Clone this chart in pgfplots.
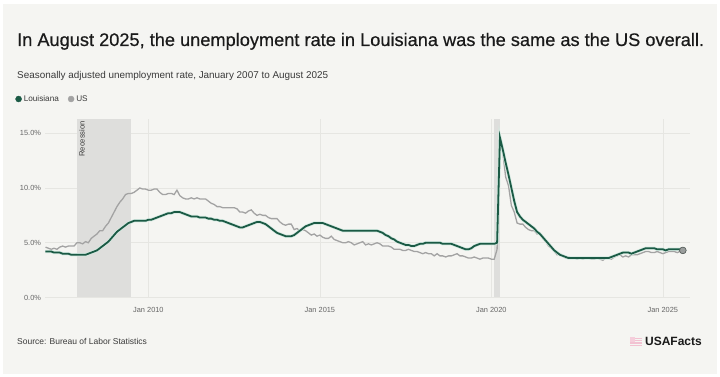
\documentclass[border=0pt]{standalone}
\usepackage{fontspec}
\setmainfont{Liberation Sans}
\newfontfamily\titlefont[FakeBold=0.5]{Liberation Sans}
\usepackage{pgfplots}
\usepackage{pgfplotstable}
\pgfplotsset{compat=1.18}
\definecolor{bgc}{HTML}{F5F5F2}
\definecolor{lacol}{HTML}{1B5A45}
\definecolor{lahalo}{HTML}{D3EAE1}
\definecolor{uscol}{HTML}{A3A3A3}
\definecolor{recc}{HTML}{DEDEDC}
\definecolor{gridc}{HTML}{E6E6E2}
\definecolor{txt}{HTML}{1A1A1A}
\definecolor{subtxt}{HTML}{3A3A3A}
\definecolor{ticktxt}{HTML}{666666}
\definecolor{logopink}{HTML}{F2C2D2}

\pgfplotstableread{
yr m la us
2007 1 4.2 4.6
2007 2 4.2 4.5
2007 3 4.2 4.4
2007 4 4.1 4.5
2007 5 4.1 4.4
2007 6 4.1 4.6
2007 7 4.0 4.7
2007 8 4.0 4.6
2007 9 4.0 4.7
2007 10 3.9 4.7
2007 11 3.9 4.7
2007 12 3.9 5.0
2008 1 3.9 5.0
2008 2 3.9 4.9
2008 3 3.9 5.1
2008 4 4.0 5.0
2008 5 4.1 5.4
2008 6 4.2 5.6
2008 7 4.3 5.8
2008 8 4.5 6.1
2008 9 4.7 6.1
2008 10 4.9 6.5
2008 11 5.1 6.8
2008 12 5.4 7.3
2009 1 5.7 7.8
2009 2 6.0 8.3
2009 3 6.2 8.7
2009 4 6.4 9.0
2009 5 6.6 9.4
2009 6 6.8 9.5
2009 7 6.9 9.5
2009 8 7.0 9.6
2009 9 7.0 9.8
2009 10 7.0 10.0
2009 11 7.0 9.9
2009 12 7.0 9.9
2010 1 7.1 9.8
2010 2 7.1 9.8
2010 3 7.2 9.9
2010 4 7.3 9.9
2010 5 7.4 9.6
2010 6 7.5 9.4
2010 7 7.6 9.4
2010 8 7.7 9.5
2010 9 7.7 9.5
2010 10 7.8 9.4
2010 11 7.8 9.8
2010 12 7.8 9.3
2011 1 7.7 9.1
2011 2 7.6 9.0
2011 3 7.5 9.0
2011 4 7.4 9.1
2011 5 7.4 9.0
2011 6 7.4 9.1
2011 7 7.3 9.0
2011 8 7.3 9.0
2011 9 7.3 9.0
2011 10 7.2 8.8
2011 11 7.2 8.6
2011 12 7.1 8.5
2012 1 7.1 8.3
2012 2 7.0 8.3
2012 3 7.0 8.2
2012 4 6.9 8.2
2012 5 6.8 8.2
2012 6 6.7 8.2
2012 7 6.6 8.2
2012 8 6.5 8.1
2012 9 6.4 7.8
2012 10 6.4 7.8
2012 11 6.5 7.7
2012 12 6.6 7.9
2013 1 6.7 8.0
2013 2 6.8 7.7
2013 3 6.9 7.5
2013 4 6.9 7.6
2013 5 6.8 7.5
2013 6 6.7 7.5
2013 7 6.5 7.3
2013 8 6.3 7.2
2013 9 6.1 7.2
2013 10 5.9 7.2
2013 11 5.8 6.9
2013 12 5.7 6.7
2014 1 5.6 6.6
2014 2 5.6 6.7
2014 3 5.6 6.7
2014 4 5.7 6.2
2014 5 5.9 6.3
2014 6 6.1 6.1
2014 7 6.3 6.2
2014 8 6.5 6.1
2014 9 6.6 5.9
2014 10 6.7 5.7
2014 11 6.8 5.8
2014 12 6.8 5.6
2015 1 6.8 5.7
2015 2 6.8 5.5
2015 3 6.7 5.4
2015 4 6.6 5.4
2015 5 6.5 5.6
2015 6 6.4 5.3
2015 7 6.3 5.2
2015 8 6.2 5.1
2015 9 6.1 5.0
2015 10 6.1 5.0
2015 11 6.1 5.1
2015 12 6.1 5.0
2016 1 6.1 4.8
2016 2 6.1 4.9
2016 3 6.1 5.0
2016 4 6.1 5.1
2016 5 6.1 4.8
2016 6 6.1 4.9
2016 7 6.1 4.8
2016 8 6.1 4.9
2016 9 6.1 5.0
2016 10 6.0 4.9
2016 11 5.9 4.7
2016 12 5.7 4.7
2017 1 5.6 4.7
2017 2 5.4 4.6
2017 3 5.3 4.4
2017 4 5.1 4.4
2017 5 5.0 4.4
2017 6 4.9 4.3
2017 7 4.8 4.3
2017 8 4.8 4.4
2017 9 4.7 4.3
2017 10 4.7 4.2
2017 11 4.8 4.2
2017 12 4.9 4.1
2018 1 4.9 4.0
2018 2 5.0 4.1
2018 3 5.0 4.0
2018 4 5.0 4.0
2018 5 5.0 3.8
2018 6 5.0 4.0
2018 7 5.0 3.8
2018 8 4.9 3.8
2018 9 4.9 3.7
2018 10 4.9 3.8
2018 11 4.9 3.8
2018 12 4.8 3.9
2019 1 4.7 4.0
2019 2 4.6 3.8
2019 3 4.5 3.8
2019 4 4.4 3.7
2019 5 4.4 3.6
2019 6 4.5 3.6
2019 7 4.7 3.7
2019 8 4.8 3.6
2019 9 4.9 3.5
2019 10 4.9 3.6
2019 11 4.9 3.6
2019 12 4.9 3.6
2020 1 4.9 3.5
2020 2 4.9 3.5
2020 3 5.0 4.4
2020 4 14.6 14.8
2020 5 13.5 13.2
2020 6 12.3 11.0
2020 7 11.2 10.2
2020 8 10.0 8.4
2020 9 8.8 7.8
2020 10 7.8 6.8
2020 11 7.4 6.7
2020 12 7.1 6.7
2021 1 6.9 6.4
2021 2 6.7 6.2
2021 3 6.5 6.1
2021 4 6.3 6.1
2021 5 6.0 5.8
2021 6 5.8 5.9
2021 7 5.5 5.4
2021 8 5.2 5.1
2021 9 4.9 4.7
2021 10 4.6 4.5
2021 11 4.3 4.2
2021 12 4.1 3.9
2022 1 3.9 4.0
2022 2 3.8 3.8
2022 3 3.7 3.6
2022 4 3.6 3.7
2022 5 3.6 3.6
2022 6 3.6 3.6
2022 7 3.6 3.5
2022 8 3.6 3.6
2022 9 3.6 3.5
2022 10 3.6 3.6
2022 11 3.6 3.6
2022 12 3.6 3.5
2023 1 3.6 3.5
2023 2 3.6 3.6
2023 3 3.6 3.5
2023 4 3.6 3.4
2023 5 3.6 3.6
2023 6 3.6 3.6
2023 7 3.7 3.5
2023 8 3.8 3.7
2023 9 3.9 3.8
2023 10 4.0 3.9
2023 11 4.1 3.7
2023 12 4.1 3.8
2024 1 4.1 3.7
2024 2 4.0 3.9
2024 3 4.1 3.9
2024 4 4.2 3.9
2024 5 4.3 4.0
2024 6 4.4 4.1
2024 7 4.5 4.2
2024 8 4.5 4.2
2024 9 4.5 4.1
2024 10 4.5 4.1
2024 11 4.4 4.2
2024 12 4.4 4.1
2025 1 4.4 4.0
2025 2 4.3 4.1
2025 3 4.4 4.2
2025 4 4.4 4.2
2025 5 4.4 4.2
2025 6 4.4 4.1
2025 7 4.4 4.2
2025 8 4.3 4.3
}\unemp

\begin{document}
\begin{tikzpicture}[x=1pt,y=1pt]
\fill[white] (0,0) rectangle (720,377);
\fill[bgc] (3,3) rectangle (717,373);
% title
\node[anchor=base west, inner sep=0pt, text=txt, font=\titlefont\fontsize{18.2}{22}\selectfont] at (17,377-46) {In August 2025, the unemployment rate in Louisiana was the same as the US overall.};
\node[anchor=base west, inner sep=0pt, text=subtxt, font=\fontsize{9.9}{12}\selectfont] at (17,377-78.5) {Seasonally adjusted unemployment rate, January 2007 to August 2025};
% source
\node[anchor=base west, inner sep=0pt, text=subtxt, font=\fontsize{8.5}{10}\selectfont] at (17,377-345) {Source: Bureau of Labor Statistics};
% logo
\node[anchor=base east, inner sep=0pt, text=txt, font=\bfseries\fontsize{12}{14}\selectfont] at (702,377-346) {USAFacts};
\foreach \k in {0,1,2,3}{\fill[logopink] (630,377-346+\k*2.3) rectangle (642,377-346+\k*2.3+1.4);}
\fill[logopink!80!white] (630,377-346+4.2) rectangle (635,377-346+8.5);

\begin{axis}[
  at={(45.5pt,79.5pt)}, anchor=south west,
  scale only axis, width=644.8pt, height=178.5pt,
  xmin=2007, xmax=2025.8, ymin=0, ymax=16.3,
  axis line style={draw=none}, tick style={draw=none},
  xtick={2010,2015,2020,2025},
  xticklabels={Jan 2010,Jan 2015,Jan 2020,Jan 2025},
  ytick={0,5,10,15},
  yticklabels={0.0\%,5.0\%,10.0\%,15.0\%},
  xmajorgrids, ymajorgrids,
  major grid style={color=gridc, line width=0.6pt},
  ticklabel style={font=\fontsize{7.4}{8}\selectfont, text=ticktxt},
  xticklabel style={yshift=-6pt},
  yticklabel style={anchor=east, xshift=-1pt},
  clip=false,
  legend columns=2,
  legend style={at={(-0.047,1.112)}, anchor=west, draw=none, fill=none,
    font=\fontsize{8.2}{10}\selectfont, text=subtxt, inner sep=0pt,
    /tikz/every even column/.append style={column sep=7pt}},
]
\addlegendimage{legend image code/.code={\fill[lacol] (2.5pt,0pt) circle (3pt);}}
\addlegendentry{Louisiana}
\addlegendimage{legend image code/.code={\fill[uscol] (2.5pt,0pt) circle (3pt);}}
\addlegendentry{US}
% recessions
\addplot[fill=recc, draw=none, forget plot] coordinates {(2007.917,16.3) (2009.5,16.3)} \closedcycle;
\addplot[fill=recc, draw=none, forget plot] coordinates {(2020.083,16.3) (2020.25,16.3)} \closedcycle;
\node[rotate=90, anchor=north east, inner sep=2pt, text=subtxt, font=\fontsize{7.6}{9}\selectfont] at (axis cs:2007.917,16.3) {Recession};
% series
\addplot[uscol, line width=1.3pt, forget plot] table[x expr=\thisrow{yr}+(\thisrow{m}-1)/12, y=us] {\unemp};
\addplot[lahalo, line width=3.2pt, forget plot] table[x expr=\thisrow{yr}+(\thisrow{m}-1)/12, y=la] {\unemp};
\addplot[lacol, line width=1.8pt, forget plot] table[x expr=\thisrow{yr}+(\thisrow{m}-1)/12, y=la] {\unemp};
\addplot[only marks, mark=*, mark size=3.3pt, mark options={fill=lacol!60!uscol, draw=lacol}, forget plot] coordinates {(2025.583,4.3)};
\addplot[only marks, mark=*, mark size=3.3pt, mark options={fill=uscol, draw=uscol!60!black, line width=0.6pt, fill opacity=0.9}, forget plot] coordinates {(2025.583,4.3)};
\end{axis}
\end{tikzpicture}
\end{document}
